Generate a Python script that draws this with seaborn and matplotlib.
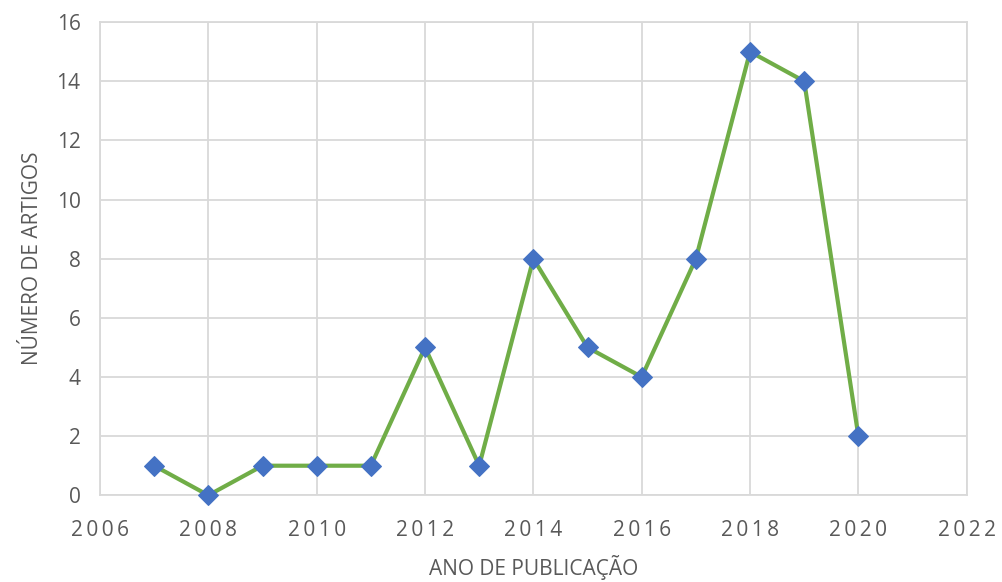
import pandas as pd
import matplotlib.pyplot as plt
import seaborn as sns

# Articles per publication year
years = [2007, 2008, 2009, 2010, 2011, 2012, 2013, 2014, 2015, 2016, 2017, 2018, 2019, 2020]
counts = [1, 0, 1, 1, 1, 5, 1, 8, 5, 4, 8, 15, 14, 2]
x_ticks = [2006, 2008, 2010, 2012, 2014, 2016, 2018, 2020, 2022]
y_ticks = [0, 2, 4, 6, 8, 10, 12, 14, 16]

df = pd.DataFrame({'ano': years, 'artigos': counts})

sns.set_style('white')
plt.rcParams['font.family'] = ['Open Sans', 'DejaVu Sans']

fig = plt.figure(figsize=(10.02, 5.82), dpi=100)
ax = fig.add_axes([0.0998, 0.149, 0.865, 0.813])

sns.lineplot(data=df, x='ano', y='artigos', ax=ax, color='#70AD47', linewidth=3,
             marker='D', markersize=10, markerfacecolor='#4472C4',
             markeredgecolor='#4472C4', clip_on=False, zorder=3)

ax.set_xlim(2006, 2022)
ax.set_ylim(0, 16)
ax.set_xticks(x_ticks)
ax.set_yticks(y_ticks)
ax.grid(True, color='#D9D9D9', linewidth=1.3)
ax.set_axisbelow(True)
for s in ax.spines.values():
    s.set_color('#D9D9D9')
    s.set_linewidth(1.3)

# spaced-out year labels
ax.set_xticklabels(['\u2009'.join(str(t)) for t in x_ticks], fontsize=15)
ax.set_yticklabels([str(t) for t in y_ticks], fontsize=15)
ax.tick_params(axis='both', length=0, colors='#595959')
ax.tick_params(axis='x', pad=18)
ax.tick_params(axis='y', pad=14)
ax.set_xlabel('ANO DE PUBLICAÇÃO', fontsize=15, color='#595959', labelpad=10)
ax.set_ylabel('NÚMERO DE ARTIGOS', fontsize=15, color='#595959', labelpad=10)

fig.savefig('out.png', dpi=100)
